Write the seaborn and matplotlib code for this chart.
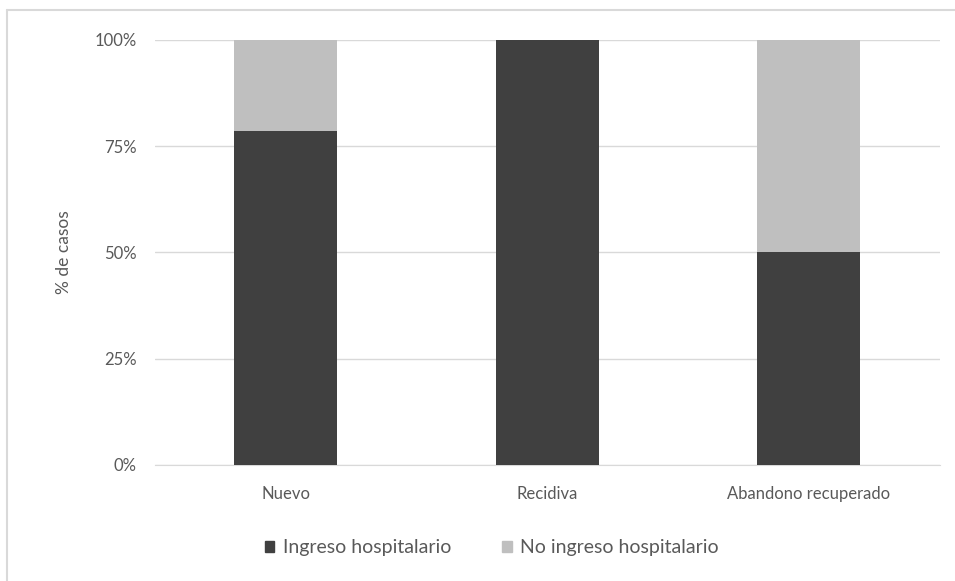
import pandas as pd
import seaborn as sns
import matplotlib.pyplot as plt
from matplotlib.patches import Patch
from matplotlib.lines import Line2D
from matplotlib.ticker import PercentFormatter

categorias = ['Nuevo', 'Recidiva', 'Abandono recuperado']
ingreso = [78.6, 100.0, 50.0]
no_ingreso = [21.4, 0.0, 50.0]
ticks = [0, 25, 50, 75, 100]

data = pd.DataFrame({'categoria': categorias, 'ingreso': ingreso, 'no_ingreso': no_ingreso})
data['total'] = data['ingreso'] + data['no_ingreso']

sns.set_style('white')
plt.rcParams['font.family'] = ['Lato', 'DejaVu Sans']

fig = plt.figure(figsize=(9.55, 5.81), dpi=100)
ax = fig.add_axes([0.1623, 0.1997, 0.8215, 0.7315])

oscuro = '#404040'
claro = '#bfbfbf'
texto = '#595959'

sns.barplot(data=data, x='categoria', y='total', color=claro, width=0.395,
            saturation=1, linewidth=0, ax=ax, zorder=3)
sns.barplot(data=data, x='categoria', y='ingreso', color=oscuro, width=0.395,
            saturation=1, linewidth=0, ax=ax, zorder=3)

ax.set_ylim(0, 100)
ax.set_xlim(-0.5, 2.5)
ax.set_yticks(ticks)
ax.yaxis.set_major_formatter(PercentFormatter(decimals=0))
ax.grid(axis='y', color='#d9d9d9', linewidth=1, zorder=0)
for s in ['top', 'right', 'left']:
    ax.spines[s].set_visible(False)
ax.spines['bottom'].set_color('#d9d9d9')
ax.tick_params(axis='both', length=0, labelsize=12, labelcolor=texto)
ax.tick_params(axis='x', pad=15)
ax.tick_params(axis='y', pad=13)
ax.set_xlabel('')
ax.set_ylabel('% de casos', fontsize=12.5, color=texto, labelpad=16)

handles = [Patch(color=oscuro), Patch(color=claro)]
fig.legend(handles, ['Ingreso hospitalario', 'No ingreso hospitalario'],
           loc='center', bbox_to_anchor=(0.515, 0.057), ncol=2, frameon=False,
           fontsize=14, labelcolor=texto, handlelength=0.5, handleheight=0.5,
           handletextpad=0.45, columnspacing=2.6)

fig.add_artist(Line2D([0.0073, 0.0073], [0, 0.983], color='#d9d9d9', linewidth=1.5))
fig.add_artist(Line2D([0.0073, 1], [0.983, 0.983], color='#d9d9d9', linewidth=1.5))

fig.savefig('out.png', dpi=100)
